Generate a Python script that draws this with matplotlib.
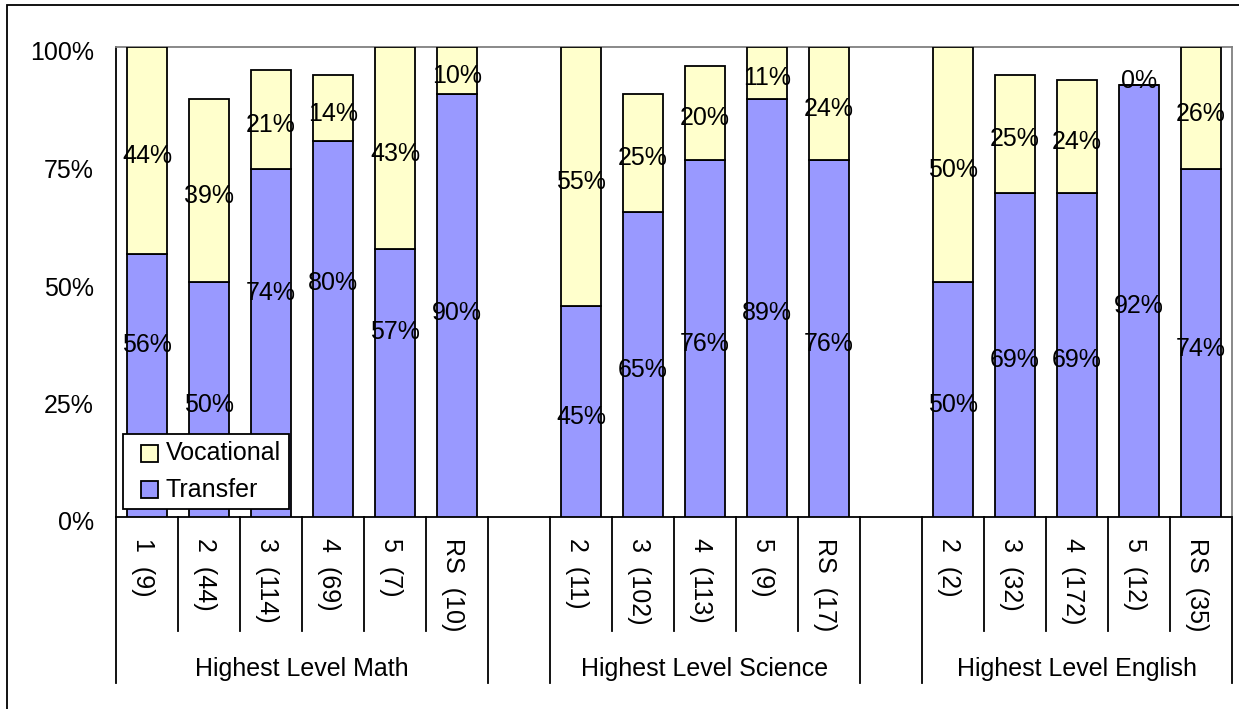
import matplotlib.pyplot as plt
from matplotlib import patches, transforms
from matplotlib.legend_handler import HandlerPatch
import numpy as np

plt.rcParams['font.family'] = ['Liberation Sans', 'DejaVu Sans']

# course level (n) per group
groups = ['Highest Level Math', 'Highest Level Science', 'Highest Level English']
math_cats = ['1  (9)', '2  (44)', '3  (114)', '4  (69)', '5  (7)', 'RS  (10)']
science_cats = ['2  (11)', '3  (102)', '4  (113)', '5  (9)', 'RS  (17)']
english_cats = ['2  (2)', '3  (32)', '4  (172)', '5  (12)', 'RS  (35)']

math_transfer = [56, 50, 74, 80, 57, 90]
math_vocational = [44, 39, 21, 14, 43, 10]
science_transfer = [45, 65, 76, 89, 76]
science_vocational = [55, 25, 20, 11, 24]
english_transfer = [50, 69, 69, 92, 74]
english_vocational = [50, 25, 24, 0, 26]

TRANSFER = '#9999FF'
VOCATIONAL = '#FFFFCC'
FS = 18
LW = 1.3

# math transfer labels sit a bit higher (pushed up by the legend)
math_transfer_label_y = [0.372, 0.243, 0.481, 0.504, 0.398, 0.44]

fig = plt.figure(figsize=(12.39, 7.09), dpi=100)
W, H = 1239, 709
ax = fig.add_axes([116 / W, (H - 517) / H, (1232 - 116) / W, 470 / H])

down = transforms.ScaledTranslation(0, -3 / 100, fig.dpi_scale_trans)
left = transforms.ScaledTranslation(-4 / 100, 0, fig.dpi_scale_trans)

cat_sets = [math_cats, science_cats, english_cats]
transfer_sets = [math_transfer, science_transfer, english_transfer]
voc_sets = [math_vocational, science_vocational, english_vocational]

bw = 40 / 62
slot = 0
group_spans = []
for gi in range(3):
    cats = cat_sets[gi]
    tr = np.array(transfer_sets[gi]) / 100
    vo = np.array(voc_sets[gi]) / 100
    x = slot + np.arange(len(cats)) + 0.5
    ax.bar(x, tr, bw, color=TRANSFER, edgecolor='black', linewidth=LW, zorder=3)
    ax.bar(x, vo, bw, bottom=tr, color=VOCATIONAL, edgecolor='black',
           linewidth=LW, zorder=3)
    for i in range(len(cats)):
        if gi == 0:
            ax.text(x[i], math_transfer_label_y[i], '%d%%' % transfer_sets[gi][i],
                    ha='center', va='center_baseline', fontsize=FS, zorder=5)
        else:
            ax.text(x[i], tr[i] / 2, '%d%%' % transfer_sets[gi][i], ha='center',
                    va='center_baseline', fontsize=FS, zorder=5,
                    transform=ax.transData + down)
        vy = tr[i] + vo[i] / 2 if vo[i] > 0 else tr[i] + 0.02
        ax.text(x[i], vy, '%d%%' % voc_sets[gi][i], ha='center',
                va='center_baseline', fontsize=FS, zorder=5,
                transform=ax.transData + down)
    group_spans.append((slot, slot + len(cats)))
    slot += len(cats) + 1

n_slots = slot - 1
ax.set_xlim(0, n_slots)
ax.set_ylim(0, 1)
ax.set_xticks([])
ax.set_yticks([0, 0.25, 0.5, 0.75, 1.0])
ax.set_yticklabels(['0%', '25%', '50%', '75%', '100%'], fontsize=FS)
ax.tick_params(axis='y', length=0, pad=16)
for t in ax.get_yticklabels():
    t.set_transform(t.get_transform() + transforms.ScaledTranslation(0, -4 / 100, fig.dpi_scale_trans))

for s in ['top', 'right']:
    ax.spines[s].set_color('#808080')
    ax.spines[s].set_linewidth(LW)
for s in ['left', 'bottom']:
    ax.spines[s].set_color('black')
    ax.spines[s].set_linewidth(LW)

# category axis: labels, short and long dividers
trans = transforms.blended_transform_factory(ax.transData, ax.transAxes)
short_y = (517 - 631) / 470
long_y = (517 - 683) / 470
for gi, (a, b) in enumerate(group_spans):
    for k, lab in enumerate(cat_sets[gi]):
        ax.text(a + k + 0.5, -21 / 470, lab, rotation=-90, ha='center', va='top',
                fontsize=FS, transform=trans + left)
    for k in range(a + 1, b):
        ax.plot([k, k], [0, short_y], color='black', lw=LW, transform=trans,
                clip_on=False)
    for k in (a, b):
        ax.plot([k, k], [0, long_y], color='black', lw=LW, transform=trans,
                clip_on=False)
    ax.text((a + b) / 2, (517 - 669) / 470, groups[gi], ha='center',
            va='center', fontsize=FS, transform=trans)


def square_key(legend, orig_handle, xdescent, ydescent, width, height, fontsize):
    side = 17 * 72 / 100
    return patches.Rectangle((-xdescent + width - side, -ydescent + (height - side) / 2 - 1.5),
                             side, side)


keys = [patches.Patch(facecolor=VOCATIONAL, edgecolor='black', linewidth=LW),
        patches.Patch(facecolor=TRANSFER, edgecolor='black', linewidth=LW)]
leg = ax.legend(keys, ['Vocational', 'Transfer'], loc='lower left',
                bbox_to_anchor=(0.006, 0.017), borderaxespad=0, fontsize=FS,
                fancybox=False, framealpha=1, edgecolor='black',
                handlelength=1.1, handleheight=0.7, handletextpad=0.33,
                borderpad=0.3, labelspacing=0.5,
                handler_map={patches.Patch: HandlerPatch(patch_func=square_key)})
leg.get_frame().set_linewidth(LW)
leg.set_zorder(6)

# chart border
fig.patches.append(patches.Rectangle((7 / W, -0.1), 2, 1.1 - 5 / H,
                                     transform=fig.transFigure, fill=False,
                                     edgecolor='black', linewidth=LW))

fig.savefig('out.png', dpi=100)
